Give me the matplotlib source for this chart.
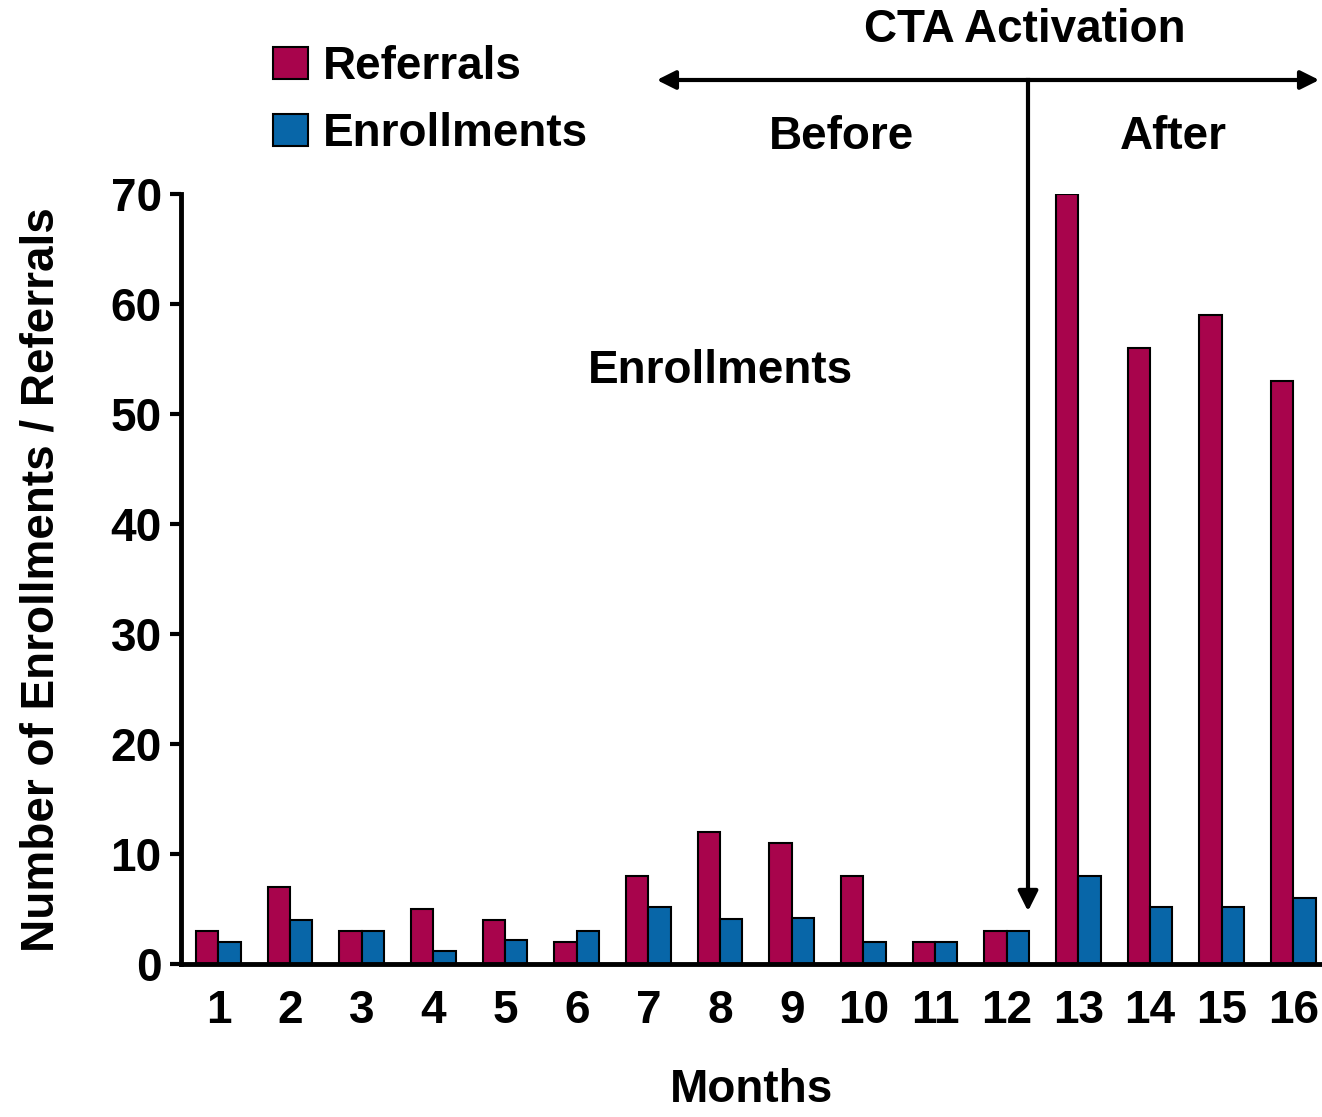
import matplotlib.pyplot as plt
import numpy as np

months = list(range(1, 17))
referrals = [3, 7, 3, 5, 4, 2, 8, 12, 11, 8, 2, 3, 70, 56, 59, 53]
enrollments = [2, 4, 3, 1.2, 2.2, 3, 5.2, 4.1, 4.2, 2, 2, 3, 8, 5.2, 5.2, 6]

ref_color = '#A8044C'
enr_color = '#0866A8'

plt.rcParams['font.family'] = ['Liberation Sans', 'DejaVu Sans']
plt.rcParams['font.weight'] = 'bold'
FS = 33

fig = plt.figure(figsize=(13.22, 11.17), dpi=100)
ax = fig.add_axes([0.137, 0.137, 0.863, 0.689])

x = np.array(months)
w = 0.31
ax.bar(x - w / 2, referrals, w, color=ref_color, edgecolor='black', linewidth=1.5, label='Referrals')
ax.bar(x + w / 2, enrollments, w, color=enr_color, edgecolor='black', linewidth=1.5, label='Enrollments')

ax.set_xlim(0.48, 16.4)
ax.set_ylim(0, 70)
ax.set_yticks(range(0, 71, 10))
ax.set_xticks(months)
ax.tick_params(axis='y', labelsize=FS, width=3, length=8, pad=6)
ax.tick_params(axis='x', labelsize=FS, length=0, pad=18)
for lab in ax.get_xticklabels() + ax.get_yticklabels():
    lab.set_fontweight('bold')
ax.spines['top'].set_visible(False)
ax.spines['right'].set_visible(False)
ax.spines['left'].set_linewidth(3.5)
ax.spines['bottom'].set_linewidth(3.5)

ax.set_xlabel('Months', fontsize=FS, fontweight='bold', labelpad=25)
ax.set_ylabel('Number of Enrollments / Referrals', fontsize=FS, fontweight='bold', labelpad=34)

# legend
ax.legend(loc='upper left', bbox_to_anchor=(0.0445, 1.248), frameon=False,
          handlelength=0.75, handleheight=0.7, handletextpad=0.33, labelspacing=0.5,
          prop={'size': FS, 'weight': 'bold'})

# annotations (figure fraction)
W, H = 1322, 1117
def fx(px):
    return px / W
def fy(py):
    return 1 - py / H

fig.text(fx(1025), fy(30), 'CTA Activation', fontsize=FS, fontweight='bold', ha='center', va='center')
fig.text(fx(842), fy(137), 'Before', fontsize=FS, fontweight='bold', ha='center', va='center')
fig.text(fx(1173), fy(137), 'After', fontsize=FS, fontweight='bold', ha='center', va='center')
fig.text(fx(720), fy(371), 'Enrollments', fontsize=FS, fontweight='bold', ha='center', va='center')

fig.add_artist(plt.Line2D([fx(1028), fx(1028)], [fy(80), fy(900)], color='black', lw=3))
ax.annotate('', xy=(fx(1028), fy(914)), xytext=(fx(1028), fy(885)), xycoords='figure fraction',
            arrowprops=dict(arrowstyle='-|>', color='black', lw=3, mutation_scale=30))
ax.annotate('', xy=(fx(654), fy(80)), xytext=(fx(1322), fy(80)), xycoords='figure fraction',
            arrowprops=dict(arrowstyle='<|-|>', color='black', lw=3, mutation_scale=28))

fig.savefig('out.png', dpi=100)
